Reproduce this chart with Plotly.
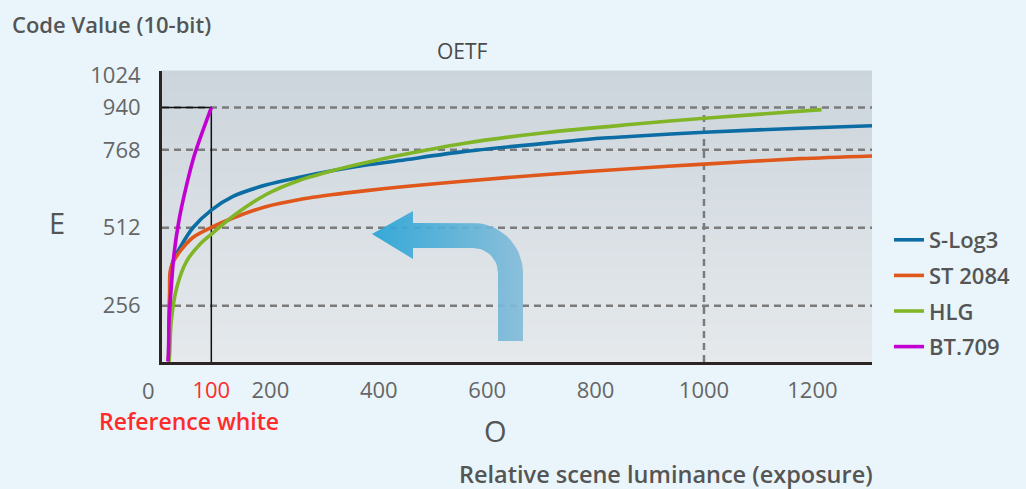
import numpy as np
import plotly.graph_objects as go

# ---------------- data ----------------
SLOG3_X = [12, 14, 16, 20, 33, 57, 91, 131, 193, 254, 316, 377, 439, 556, 710, 808, 863, 1001, 1177, 1310]
SLOG3_Y = [73, 276, 360, 401, 446, 512, 570, 615, 653, 678, 700, 718, 733, 762, 790, 806, 812, 826, 839, 847]

ST2084_X = [12, 14, 15, 20, 33, 57, 91, 131, 193, 254, 316, 377, 439, 556, 710, 863, 1001, 1177, 1310]
ST2084_Y = [73, 276, 368, 397, 434, 480, 513, 544, 582, 605, 621, 634, 646, 665, 687, 706, 721, 739, 748]

HLG_X = [13, 14, 17, 27, 45, 70, 91, 131, 193, 254, 316, 377, 439, 556, 710, 863, 1001, 1217]
HLG_Y = [73, 95, 204, 314, 401, 458, 491, 550, 622, 668, 700, 726, 750, 789, 825, 851, 872, 900]

BT709_X = [11, 12, 13, 17, 22, 31, 44, 60, 91]
BT709_Y = [73, 95, 204, 314, 423, 533, 642, 752, 907]

SERIES_NAMES = ["S-Log3", "ST 2084", "HLG", "BT.709"]
SERIES_COLORS = ["#0b6da3", "#e0571c", "#80b527", "#c300d2"]

X_TICK_VALS = [91, 200, 400, 600, 800, 1000, 1200]
X_TICK_TEXT = ["<span style='color:#ff2b2b'>100</span>", "200", "400", "600", "800", "1000", "1200"]
Y_TICK_VALS = [256, 512, 768, 907, 1014]
Y_TICK_TEXT = ["256", "512", "768", "940", "1024"]
Y_GRID = [256, 512, 768, 907]
X_GRID = [1000]
REF_WHITE_X = 91
REF_WHITE_Y = 907

X_RANGE = [0, 1310]
Y_RANGE = [71, 1027]

# ---------------- layout geometry ----------------
W, H = 1026, 489
ML, MR, MT, MB = 162, 154, 71, 127
PW, PH = W - ML - MR, H - MT - MB

def px2data(px, py):
    x = X_RANGE[0] + (px - ML) / PW * (X_RANGE[1] - X_RANGE[0])
    y = Y_RANGE[0] + (MT + PH - py) / PH * (Y_RANGE[1] - Y_RANGE[0])
    return x, y

fig = go.Figure()

# decorative bent arrow (pixel geometry -> data coordinates)
pts = [(372, 234), (413, 211), (413, 223), (473, 223)]
for a in np.linspace(-np.pi / 2, 0, 16)[1:]:
    pts.append((473 + 50 * np.cos(a), 273 + 50 * np.sin(a)))
pts += [(523, 341), (498, 341), (498, 273)]
for a in np.linspace(0, -np.pi / 2, 12)[1:]:
    pts.append((473 + 25 * np.cos(a), 273 + 25 * np.sin(a)))
pts += [(413, 248), (413, 259), (372, 234)]
ax_, ay_ = zip(*[px2data(p[0], p[1]) for p in pts])
fig.add_trace(go.Scatter(
    x=list(ax_), y=list(ay_), mode="lines", fill="toself",
    line=dict(width=0, color="rgba(0,0,0,0)"),
    fillgradient=dict(type="horizontal", colorscale=[[0, "#27a4d6"], [1, "#84bcd9"]]),
    opacity=0.92, showlegend=False, hoverinfo="skip"))

series = [(SLOG3_X, SLOG3_Y), (ST2084_X, ST2084_Y), (HLG_X, HLG_Y), (BT709_X, BT709_Y)]
for (xs, ys), name, col in zip(series, SERIES_NAMES, SERIES_COLORS):
    fig.add_trace(go.Scatter(
        x=xs, y=ys, name=name, mode="lines", legendgroup=name,
        line=dict(color=col, width=3.6, shape="spline", smoothing=0.8)))

shapes = []
# plot background vertical gradient
top = np.array([0xcc, 0xd5, 0xdc]); bot = np.array([0xe5, 0xe9, 0xec])
N = 40
for k in range(N):
    t = (k + 0.5) / N
    c = top * (1 - t) + bot * t
    shapes.append(dict(type="rect", xref="paper", yref="paper", x0=0, x1=1,
                       y0=1 - (k + 1) / N - 0.002, y1=1 - k / N + 0.002, layer="below",
                       line=dict(width=0),
                       fillcolor="rgb(%d,%d,%d)" % tuple(c.round().astype(int))))
for gy in Y_GRID:
    shapes.append(dict(type="line", xref="paper", yref="y", x0=0, x1=1, y0=gy, y1=gy,
                       layer="below", line=dict(color="#7b7b7b", width=2.5, dash="7px,5px")))
for gx in X_GRID:
    shapes.append(dict(type="line", xref="x", yref="y", x0=gx, x1=gx, y0=Y_RANGE[0], y1=REF_WHITE_Y,
                       layer="below", line=dict(color="#7b7b7b", width=2.5, dash="7px,5px")))
# reference white box
shapes.append(dict(type="path", xref="x", yref="y",
                   path="M %f,%f L %f,%f L %f,%f" % (X_RANGE[0], REF_WHITE_Y, REF_WHITE_X, REF_WHITE_Y,
                                                      REF_WHITE_X, Y_RANGE[0]),
                   layer="below", line=dict(color="#111111", width=1.5)))

FONT = "Open Sans, Noto Sans, sans-serif"
def P(px):  # paper x
    return (px - ML) / PW
def Q(py):  # paper y
    return (MT + PH - py) / PH

annotations = [
    dict(text="Code Value (10-bit)", x=P(10), y=Q(24), xanchor="left", yanchor="middle",
         font=dict(size=22, color="#555555", weight=600)),
    dict(text="OETF", x=P(462), y=Q(51), xanchor="center", yanchor="middle",
         font=dict(size=21, color="#4a4a4a", weight=500)),
    dict(text="E", x=P(57), y=Q(223), xanchor="center", yanchor="middle",
         font=dict(size=29, color="#555555", weight=500)),
    dict(text="O", x=P(495), y=Q(430), xanchor="center", yanchor="middle",
         font=dict(size=29, color="#555555", weight=500)),
    dict(text="Reference white", x=P(189), y=Q(421), xanchor="center", yanchor="middle",
         font=dict(size=23, color="#ff2b2b", weight=600)),
    dict(text="Relative scene luminance (exposure)", x=P(666), y=Q(474), xanchor="center",
         yanchor="middle", font=dict(size=23.5, color="#555555", weight=600)),
    dict(text="0", x=P(148), y=Q(390), xanchor="center", yanchor="middle",
         font=dict(size=22, color="#666666", family=FONT)),
]
for a in annotations:
    a.update(xref="paper", yref="paper", showarrow=False)

TICKFONT = dict(size=22, color="#666666", family=FONT)
fig.update_layout(
    width=W, height=H, margin=dict(l=ML, r=MR, t=MT, b=MB, autoexpand=False),
    paper_bgcolor="#e9f5fa", plot_bgcolor="#d8dee3",
    font=dict(family=FONT, color="#666666"),
    shapes=shapes, annotations=annotations,
    showlegend=True,
    legend=dict(x=P(889), y=Q(219), xanchor="left", yanchor="top",
                font=dict(size=22, color="#555555", weight=600, family=FONT),
                bgcolor="rgba(0,0,0,0)", tracegroupgap=4, traceorder="grouped"),
    xaxis=dict(range=X_RANGE, showgrid=False, zeroline=False, showline=True,
               linecolor="#2b2423", linewidth=3, tickvals=X_TICK_VALS, ticktext=X_TICK_TEXT,
               ticks="", tickfont=TICKFONT, ticklabelstandoff=7, automargin=False),
    yaxis=dict(range=Y_RANGE, showgrid=False, zeroline=False, showline=True,
               linecolor="#2b2423", linewidth=3, tickvals=Y_TICK_VALS, ticktext=Y_TICK_TEXT,
               ticks="", tickfont=TICKFONT, ticklabelstandoff=14, automargin=False),
)

fig.write_html("out.html", config={"displayModeBar": False}, post_script=(
    "document.documentElement.style.margin='0';document.body.style.margin='0';"
    "document.body.style.padding='0';document.body.style.overflow='hidden';"
    "document.body.style.background='#e9f5fa';"))
